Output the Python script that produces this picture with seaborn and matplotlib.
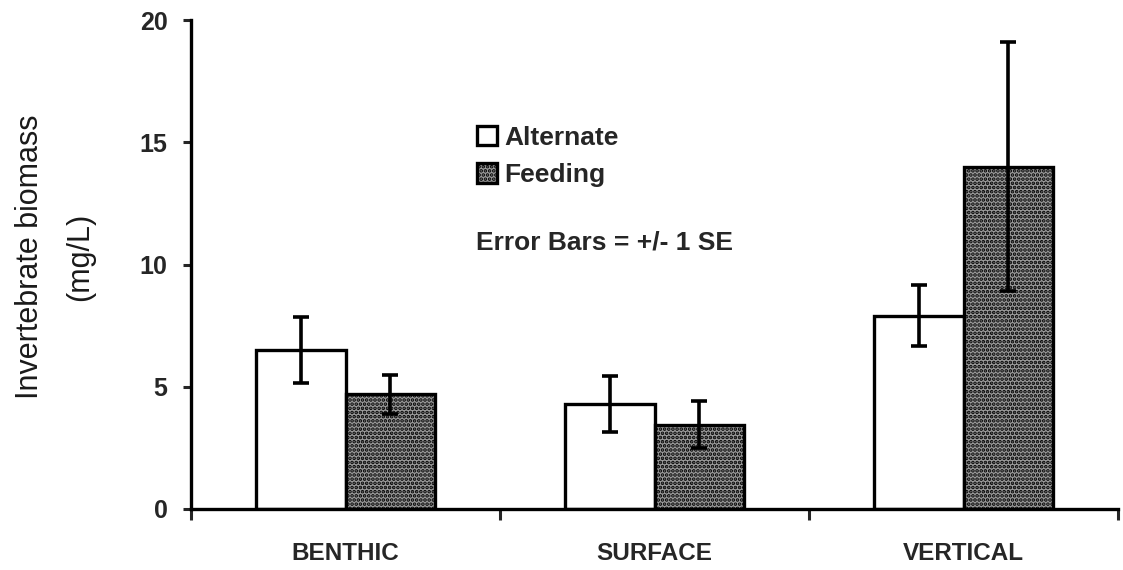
import matplotlib
matplotlib.use("Agg")
import matplotlib.pyplot as plt
import seaborn as sns
import pandas as pd

# Invertebrate biomass (mg/L) by sampling method and treatment
habitats = ["BENTHIC", "SURFACE", "VERTICAL"]
treatments = ["Alternate", "Feeding"]
alternate_mean = [6.5, 4.3, 7.9]
alternate_se = [1.35, 1.15, 1.25]
feeding_mean = [4.7, 3.45, 14.0]
feeding_se = [0.8, 0.95, 5.1]
y_ticks = [0, 5, 10, 15, 20]

df = pd.DataFrame({
    "habitat": habitats * 2,
    "treatment": [treatments[0]] * 3 + [treatments[1]] * 3,
    "biomass": alternate_mean + feeding_mean,
})
se_by_treatment = [alternate_se, feeding_se]

sns.set_theme(style="ticks")
plt.rcParams["font.family"] = ["Liberation Sans", "DejaVu Sans"]
plt.rcParams["hatch.linewidth"] = 1.8

fig = plt.figure(figsize=(11.23, 5.70), dpi=100)
ax = fig.add_axes([191 / 1123, 1 - 509 / 570, (1118 - 191) / 1123, (509 - 20) / 570])

sns.barplot(
    data=df, x="habitat", y="biomass", hue="treatment",
    order=habitats, hue_order=treatments,
    palette={"Alternate": "white", "Feeding": "#9a9a9a"},
    edgecolor="black", linewidth=2.4, width=0.58,
    errorbar=None, legend=False, ax=ax, zorder=2,
)

# speckled fill for the feeding bars
for bar in ax.containers[1]:
    bar.set_hatch("....")

# +/- 1 SE error bars centred on each bar
for container, se in zip(ax.containers, se_by_treatment):
    xs = [b.get_x() + b.get_width() / 2 for b in container]
    ys = [b.get_height() for b in container]
    ax.errorbar(xs, ys, yerr=se, fmt="none", ecolor="black",
                elinewidth=2.6, capsize=6, capthick=2.6, zorder=3)

ax.set_ylim(0, 20)
ax.set_xlim(-0.5, 2.5)
ax.set_yticks(y_ticks)
ax.set_yticklabels([str(t) for t in y_ticks], fontsize=18, fontweight="bold")

# category boundaries carry the tick marks; names sit between them
ax.set_xticks([-0.5, 0.5, 1.5, 2.5])
ax.set_xticklabels([])
ax.set_xticks([0, 1, 2], minor=True)
ax.set_xticklabels(habitats, minor=True, fontsize=17.5, fontweight="bold")
ax.tick_params(axis="x", which="major", direction="out", length=8, width=2.2)
ax.tick_params(axis="x", which="minor", length=0, pad=24)
ax.tick_params(axis="y", direction="out", length=6, width=2.2, pad=11)

ax.set_xlabel("")
ax.set_ylabel("")
for side in ["top", "right"]:
    ax.spines[side].set_visible(False)
for side in ["left", "bottom"]:
    ax.spines[side].set_linewidth(2.4)
    ax.spines[side].set_color("black")

fig.text(55 / 1123, 1 - 257 / 570, "Invertebrate biomass\n(mg/L)",
         rotation=90, ha="center", va="center", multialignment="center",
         fontsize=22, linespacing=1.85, color="#1a1a1a")

handles = [ax.containers[0][0], ax.containers[1][0]]
leg = ax.legend(
    handles, treatments, loc="upper left",
    bbox_to_anchor=(477 / 1123, 1 - 126 / 570), bbox_transform=fig.transFigure,
    frameon=False, borderpad=0, borderaxespad=0,
    handlelength=0.75, handleheight=0.75, handletextpad=0.3,
    labelspacing=0.5, prop={"weight": "bold", "size": 19},
)

fig.text(476 / 1123, 1 - 242 / 570, "Error Bars = +/- 1 SE",
         ha="left", va="center", fontsize=19, fontweight="bold")

fig.savefig("out.png", dpi=100)
